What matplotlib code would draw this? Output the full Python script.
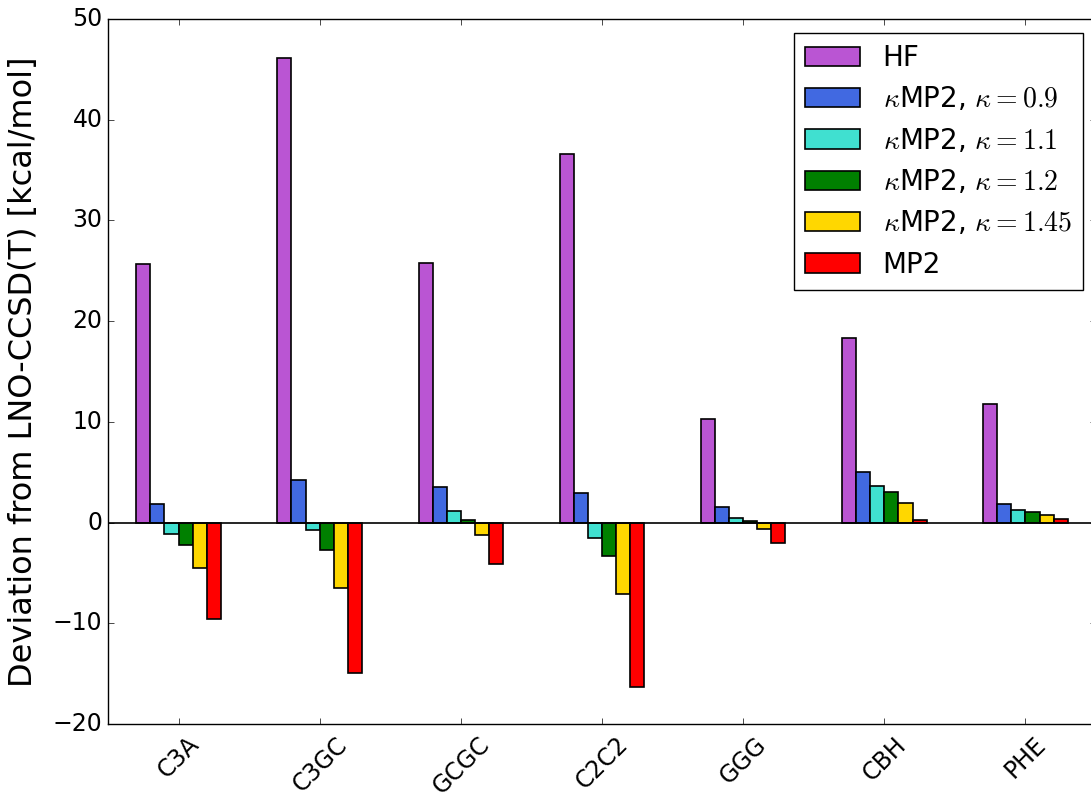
import numpy as np
import matplotlib
matplotlib.use("Agg")
import matplotlib.pyplot as plt

# 各體系相對 LNO-CCSD(T) 的偏差 (kcal/mol)
systems = ["C3A", "C3GC", "GCGC", "C2C2", "GGG", "CBH", "PHE"]
hf      = [25.7, 46.1, 25.8, 36.6, 10.3, 18.3, 11.8]
k09     = [1.85, 4.25, 3.55, 2.9, 1.5, 5.0, 1.8]
k11     = [-1.1, -0.7, 1.1, -1.55, 0.5, 3.6, 1.2]
k12     = [-2.2, -2.7, 0.3, -3.35, 0.13, 3.05, 1.05]
k145    = [-4.5, -6.5, -1.25, -7.05, -0.6, 1.95, 0.8]
mp2     = [-9.55, -14.9, -4.1, -16.3, -2.0, 0.25, 0.4]

series = [hf, k09, k11, k12, k145, mp2]
labels = ["HF", r"$\kappa$MP2, $\kappa=0.9$", r"$\kappa$MP2, $\kappa=1.1$",
          r"$\kappa$MP2, $\kappa=1.2$", r"$\kappa$MP2, $\kappa=1.45$", "MP2"]
colors = ["mediumorchid", "royalblue", "turquoise", "green", "gold", "red"]

plt.style.use("classic")
plt.rcParams["figure.facecolor"] = "white"
plt.rcParams["savefig.facecolor"] = "white"

fig = plt.figure(figsize=(10.91, 7.98), dpi=100)
ax = fig.add_axes([108 / 1091, 1 - 724 / 798, (1096 - 108) / 1091, (724 - 19) / 798])

x = np.arange(len(systems))
w = 0.1
for i, (vals, lab, c) in enumerate(zip(series, labels, colors)):
    ax.bar(x + (i - 2.5) * w, vals, w, color=c, edgecolor="black",
           linewidth=1.2, label=lab, align="center")

ax.axhline(0, color="black", linewidth=1.2)
ax.set_xlim(-0.5, len(systems) - 0.5)
ax.set_ylim(-20, 50)
ax.set_xticks(x)
ax.set_xticklabels(systems, rotation=45, fontsize=17)
ax.tick_params(axis="y", labelsize=17)
ax.tick_params(axis="x", pad=6)
ax.set_ylabel("Deviation from LNO-CCSD(T) [kcal/mol]", fontsize=23, labelpad=10)

ax.legend(loc="upper right", bbox_to_anchor=(1083 / 1091, 1 - 33 / 798),
          bbox_transform=fig.transFigure, borderaxespad=0, fontsize=20,
          handlelength=2.0, handleheight=0.7, handletextpad=0.8,
          labelspacing=0.48, fancybox=False)

fig.savefig("out.png", dpi=100)
